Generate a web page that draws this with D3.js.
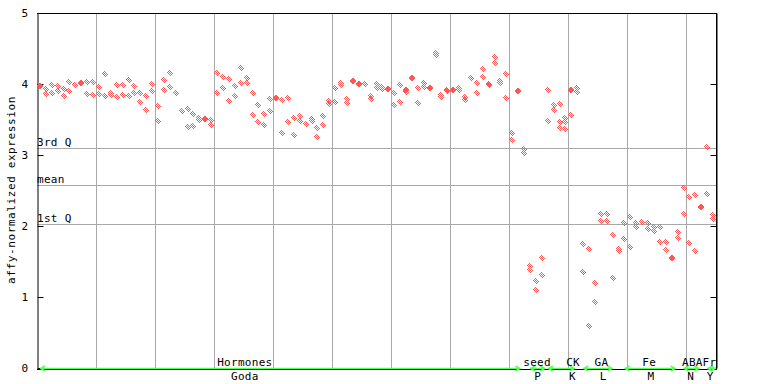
<!DOCTYPE html>
<html><head><meta charset="utf-8">
<script src="https://cdn.jsdelivr.net/npm/d3@7"></script>
<style>
body{margin:0;background:#fff}
text{font-family:"DejaVu Sans Mono",monospace;font-size:11px;fill:#000;letter-spacing:0.3px}
</style>
</head><body>
<svg id="c" width="768" height="384"></svg>
<script>
// replicate values per sample column (null = no replicate)
const repA=[3.97,3.93,3.99,3.97,3.93,4.03,3.99,4.02,4.03,4.03,
3.96,4.14,3.87,3.99,3.99,4.05,3.97,3.87,3.83,4.00,
3.69,4.06,4.15,3.87,3.62,3.65,3.58,3.52,3.51,3.49,
4.15,4.10,4.07,3.97,4.23,4.08,3.87,3.70,3.58,3.79,
3.80,3.78,3.80,3.52,3.55,3.44,3.51,3.38,3.55,3.76,
3.94,4.01,3.79,4.04,4.00,4.00,3.83,4.00,3.96,3.93,
3.87,3.99,3.92,4.08,3.94,4.01,3.95,4.44,3.85,3.92,
3.91,3.94,3.82,4.08,4.01,4.21,4.00,4.38,4.04,4.14,
3.31,3.90,3.08,1.44,1.23,1.55,3.92,3.70,3.72,3.52,
3.92,3.94,1.75,1.68,1.20,2.17,2.17,1.87,1.68,2.04,
2.13,2.04,2.06,2.04,1.99,1.99,1.77,1.55,1.92,2.54,
2.41,2.44,2.27,3.11,2.16];
const repB=[null,3.86,3.88,3.90,3.83,3.90,null,null,3.86,3.85,
3.86,3.83,3.85,3.82,3.85,3.83,3.88,3.75,3.63,3.90,
3.48,3.92,3.96,null,null,3.39,3.41,3.49,null,3.42,
3.87,3.94,3.76,3.83,4.01,4.01,3.56,3.46,3.42,3.62,
null,3.31,3.46,3.28,3.48,null,3.48,3.25,3.42,3.72,
3.75,3.99,3.73,null,null,null,3.79,3.94,3.93,null,
3.70,3.75,3.89,null,3.73,3.96,null,4.41,3.82,3.90,
null,3.92,3.78,null,3.87,4.10,3.98,4.30,4.01,3.80,
3.21,null,3.03,1.38,1.10,1.31,3.48,3.64,3.46,3.46,
3.56,3.89,1.35,0.59,0.93,2.07,2.07,1.27,1.65,1.82,
1.70,1.99,null,1.96,1.93,1.77,1.66,null,1.83,2.17,
1.76,1.65,null,2.45,2.10];
const repC={88:3.38,89:3.37};
const solidCols=[0,7,28,40,53,54,59,62,63,66,70,81,90,107,112];

const yTicks=[0,1,2,3,4,5];
const refNames=["3rd Q","mean","1st Q"];
const refValues=[3.10,2.58,2.03];
const groupNames=["Hormones","seed","CK","GA","Fe","ABA","Fr"];
const subNames=["Goda","P","K","L","M","N","Y"];
const groupFirst=[0,83,86,92,99,109,113];
const groupLast=[81.4,85.6,90.6,97,107.7,111.7,114.5];
const groupLabelAt=[34.7,84.2,90.3,95.1,103.2,110.5,113.4];
const subLabelAt=[34.7,84.3,90.2,95.4,103.5,110.2,113.5];

const RED="#ff5555", GRID="#a8a8a8", GREEN="#55ff55";
const svg=d3.select("#c");
const L=37,R=716,T=13,B=368;
const x=d3.scaleLinear().domain([-0.5,114.5]).range([L,R]);
const y=d3.scaleLinear().domain([0,5]).range([B,T]);

const defs=svg.append("defs");
const pat=defs.append("pattern").attr("id","chk").attr("width",2).attr("height",2)
  .attr("patternUnits","userSpaceOnUse");
pat.append("rect").attr("width",1).attr("height",1).attr("fill",RED);
pat.append("rect").attr("x",1).attr("y",1).attr("width",1).attr("height",1).attr("fill",RED);

// vertical grid
const gridIdx=d3.range(9.5,110,10);
svg.append("g").selectAll("line").data(gridIdx).join("line")
  .attr("x1",d=>Math.round(x(d))+0.5).attr("x2",d=>Math.round(x(d))+0.5)
  .attr("y1",T).attr("y2",B).attr("stroke",GRID).attr("stroke-width",1);
// reference lines
svg.append("g").selectAll("line").data(refValues).join("line")
  .attr("x1",L).attr("x2",R)
  .attr("y1",d=>Math.round(y(d))+0.5).attr("y2",d=>Math.round(y(d))+0.5)
  .attr("stroke",GRID).attr("stroke-width",1);
svg.append("g").selectAll("text").data(refValues).join("text")
  .attr("x",L).attr("y",d=>Math.round(y(d))-2).text((d,i)=>refNames[i]);

// frame
svg.append("line").attr("x1",L).attr("x2",R+0.5).attr("y1",T+0.5).attr("y2",T+0.5).attr("stroke","#000");
svg.append("line").attr("x1",R+0.5).attr("x2",R+0.5).attr("y1",T).attr("y2",B+2).attr("stroke","#000");
svg.append("line").attr("x1",L).attr("x2",R+0.5).attr("y1",B+1.5).attr("y2",B+1.5).attr("stroke","#000");

// axes
const ax=svg.append("g").attr("transform",`translate(${L+0.5},0)`)
  .call(d3.axisLeft(y).tickValues(yTicks).tickFormat(d3.format("d"))
    .tickSizeInner(-6).tickSizeOuter(0).tickPadding(9));
ax.selectAll("path,line").attr("stroke","#000");
ax.selectAll("text").attr("font-family",null).attr("font-size",null).style("font-size","11px");
const ax2=svg.append("g").attr("transform",`translate(${R+0.5},0)`)
  .call(d3.axisRight(y).tickValues(yTicks).tickFormat("").tickSizeInner(-6).tickSizeOuter(0));
ax2.selectAll("path,line").attr("stroke","#000");

svg.append("text").attr("transform","translate(15,190) rotate(-90)")
  .attr("text-anchor","middle").style("letter-spacing","0.6px")
  .text("affy-normalized expression");

// points
const pts=[];
repA.forEach((v,i)=>{ if(v!=null) pts.push({i,v,solid:solidCols.includes(i)}); });
repB.forEach((v,i)=>{ if(v!=null) pts.push({i,v,solid:false}); });
Object.entries(repC).forEach(([i,v])=>pts.push({i:+i,v,solid:false}));
const dia="M0,-3.5L3.5,0L0,3.5L-3.5,0Z";
svg.append("g").selectAll("path").data(pts).join("path")
  .attr("d",dia).attr("shape-rendering","crispEdges")
  .attr("transform",d=>`translate(${Math.round(x(d.i))},${Math.round(y(d.v))})`)
  .attr("fill",d=>d.solid?RED:"url(#chk)");

// group bars on x axis
const gy=B+0.5;
const gg=svg.append("g").attr("stroke",GREEN).attr("fill","none").attr("stroke-width",1.5);
groupNames.forEach((g,k)=>{
  const x0=x(groupFirst[k]), x1=Math.min(x(groupLast[k]),R);
  gg.append("line").attr("x1",x0).attr("x2",x1).attr("y1",gy).attr("y2",gy);
  gg.append("path").attr("d",`M${x0+5},${gy-2.5}L${x0+1},${gy}L${x0+5},${gy+2.5}`);
  gg.append("path").attr("d",`M${x1-5},${gy-2.5}L${x1-1},${gy}L${x1-5},${gy+2.5}`);
});
svg.append("g").selectAll("text").data(groupNames).join("text")
  .attr("x",(d,k)=>x(groupLabelAt[k])).attr("y",366).attr("text-anchor","middle").text(d=>d);
svg.append("g").selectAll("text").data(subNames).join("text")
  .attr("x",(d,k)=>x(subLabelAt[k])).attr("y",380).attr("text-anchor","middle").text(d=>d);
</script>
</body></html>
